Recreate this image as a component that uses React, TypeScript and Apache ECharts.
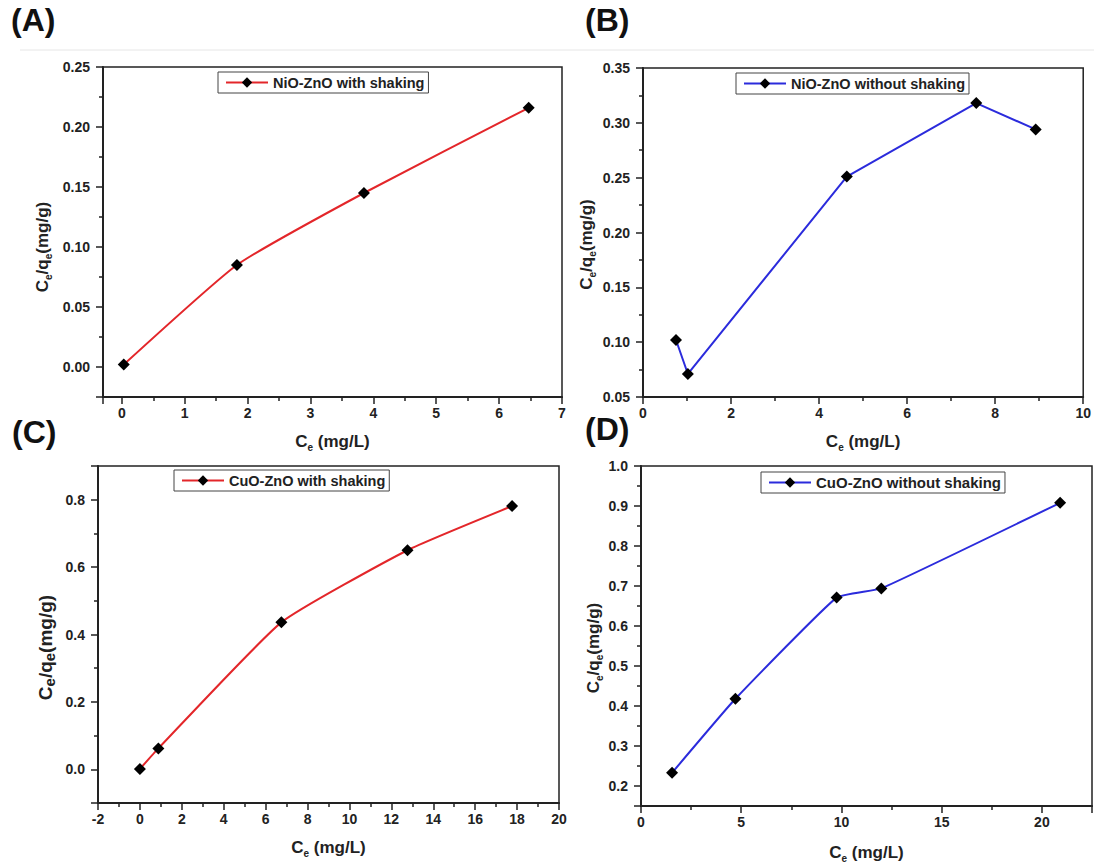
import React, { useEffect, useRef } from "react";
import * as echarts from "echarts";

// ---- data ----
const nioShakeX = [0.03, 1.83, 3.85, 6.47];
const nioShakeY = [0.002, 0.085, 0.145, 0.216];
const nioNoShakeX = [0.75, 1.02, 4.63, 7.57, 8.92];
const nioNoShakeY = [0.102, 0.071, 0.251, 0.318, 0.294];
const cuoShakeX = [0, 0.88, 6.75, 12.77, 17.76];
const cuoShakeY = [0.001, 0.062, 0.436, 0.65, 0.781];
const cuoNoShakeX = [1.55, 4.71, 9.76, 11.99, 20.91];
const cuoNoShakeY = [0.233, 0.418, 0.671, 0.694, 0.908];

const seriesNames = [
  "NiO-ZnO with shaking",
  "NiO-ZnO without shaking",
  "CuO-ZnO with shaking",
  "CuO-ZnO without shaking",
];
const panelLabels = ["(A)", "(B)", "(C)", "(D)"];

const FONT = "'Liberation Sans', Arial, Helvetica, sans-serif";
const INK = "#222";
const RED = "#e3262a";
const BLUE = "#2b2bdc";

const zip = (xs: number[], ys: number[]) => xs.map((x, i) => [x, ys[i]]);

const xTitle = "{b|C}{s|e}{b| (mg/L)}";
const yTitle = "{b|C}{s|e}{b|/q}{s|e}{b|(mg/g)}";

function rich(size: number, subSize: number) {
  return {
    b: { fontSize: size, fontWeight: "bold", fontFamily: FONT, color: INK, lineHeight: size + 5 },
    s: {
      fontSize: subSize,
      fontWeight: "bold",
      fontFamily: FONT,
      color: INK,
      lineHeight: subSize * 0.8,
      verticalAlign: "bottom",
    },
  };
}

function axis(
  dim: "x" | "y",
  gridIndex: number,
  min: number,
  max: number,
  step: number,
  decimals: number,
  showMin: boolean,
  showMax: boolean,
  name: string,
  nameGap: number,
  nameSize: number,
  subSize: number,
  shift: number
) {
  return {
    type: "value",
    gridIndex,
    min,
    max,
    minInterval: step,
    maxInterval: step,
    splitNumber: Math.round((max - min) / step),
    axisLine: { show: true, onZero: false, lineStyle: { color: INK, width: 2 } },
    axisTick: { show: true, inside: false, length: 7, lineStyle: { color: INK, width: 1.5 } },
    minorTick: { show: true, splitNumber: 2, length: 4, lineStyle: { color: INK, width: 1.5 } },
    splitLine: { show: false },
    minorSplitLine: { show: false },
    axisLabel: {
      margin: dim === "x" ? 9 : 13,
      color: INK,
      fontSize: 14,
      fontWeight: "bold",
      fontFamily: FONT,
      showMinLabel: showMin,
      showMaxLabel: showMax,
      formatter: (v: number) => v.toFixed(decimals),
    },
    name,
    nameLocation: "middle",
    nameGap,
    nameTextStyle: { rich: rich(nameSize, subSize), padding: [0, shift, 0, 0] },
  };
}

function legend(i: number, left: number, top: number, fontSize: number) {
  return {
    data: [seriesNames[i]],
    left,
    top,
    orient: "horizontal",
    padding: [3, 4, 3, 7],
    itemWidth: 42,
    itemHeight: 13,
    itemGap: 0,
    borderColor: "#444",
    borderWidth: 1,
    borderRadius: 0,
    backgroundColor: "#fff",
    textStyle: { fontSize, fontWeight: "bold", fontFamily: FONT, color: INK },
  };
}

function series(i: number, xs: number[], ys: number[], color: string, smooth: number | boolean) {
  return {
    type: "line",
    name: seriesNames[i],
    xAxisIndex: i,
    yAxisIndex: i,
    data: zip(xs, ys),
    symbol: "diamond",
    symbolSize: 12,
    smooth,
    itemStyle: { color: "#000" },
    lineStyle: { color, width: 2 },
    emphasis: { disabled: true },
    z: 3,
  };
}

export default function App() {
  const ref = useRef<HTMLDivElement>(null);

  useEffect(() => {
    if (!ref.current) return;
    const chart = echarts.init(ref.current, null, { renderer: "svg" });

    const gridBase = { show: true, borderColor: INK, borderWidth: 1.5, backgroundColor: "transparent", containLabel: false };

    const option: any = {
      animation: false,
      backgroundColor: "#fff",
      grid: [
        { ...gridBase, left: 103, top: 67, width: 459, height: 330 },
        { ...gridBase, left: 643, top: 68, width: 441, height: 329 },
        { ...gridBase, left: 98, top: 466, width: 461, height: 337 },
        { ...gridBase, left: 641, top: 466, width: 451, height: 340 },
      ],
      xAxis: [
        axis("x", 0, -0.3, 7, 1, 0, false, true, xTitle, 33, 17, 10, 0),
        axis("x", 1, 0, 10, 2, 0, true, true, xTitle, 33, 17, 10, 0),
        axis("x", 2, -2, 20, 2, 0, true, true, xTitle, 33, 17, 10, 0),
        axis("x", 3, 0, 22.5, 5, 0, true, false, xTitle, 35, 17, 10, 0),
      ],
      yAxis: [
        axis("y", 0, -0.025, 0.25, 0.05, 2, false, true, yTitle, 50, 17, 10, 30),
        axis("y", 1, 0.05, 0.35, 0.05, 2, true, true, yTitle, 46, 17, 10, 24),
        axis("y", 2, -0.1, 0.9, 0.2, 1, false, false, yTitle, 41, 19, 15, 26),
        axis("y", 3, 0.15, 1.0, 0.1, 1, false, true, yTitle, 37, 17, 10, 24),
      ],
      legend: [
        legend(0, 218, 72, 14.5),
        legend(1, 736, 73, 14.5),
        legend(2, 174, 470, 14.5),
        legend(3, 761, 472, 15),
      ],
      series: [
        series(0, nioShakeX, nioShakeY, RED, 0.15),
        series(1, nioNoShakeX, nioNoShakeY, BLUE, false),
        series(2, cuoShakeX, cuoShakeY, RED, 0.15),
        series(3, cuoNoShakeX, cuoNoShakeY, BLUE, 0.12),
      ],
      graphic: [
        { type: "line", shape: { x1: 20, y1: 50, x2: 1094, y2: 50 }, style: { stroke: "#e6e6e6", lineWidth: 1 }, z: -1 },
        ...panelLabels.map((t, i) => ({
          type: "text",
          x: [11, 585, 12, 585][i],
          y: [4, 4, 416, 413][i],
          style: { text: t, fontSize: 32, fontWeight: "bold", fontFamily: FONT, fill: "#111", textVerticalAlign: "top" },
        })),
      ],
    };

    chart.setOption(option);
    return () => chart.dispose();
  }, []);

  return (
    <div
      ref={ref}
      style={{ position: "fixed", left: 0, top: 0, width: 1094, height: 867, background: "#fff" }}
    />
  );
}
